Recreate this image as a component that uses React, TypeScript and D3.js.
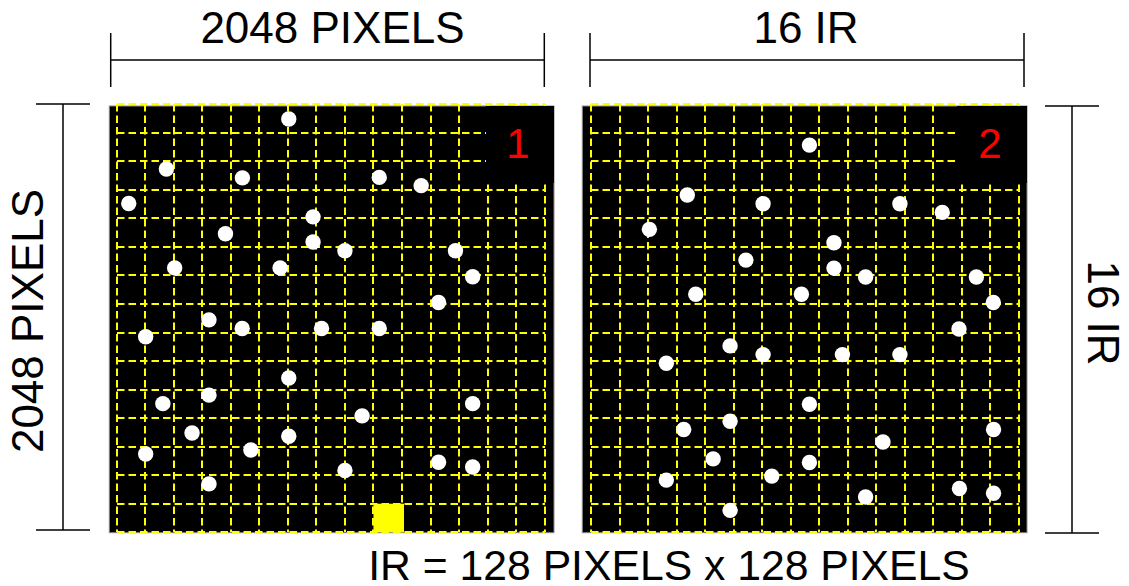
import * as d3 from 'd3';
import React from 'react';

const WIDTH = 1129;
const HEIGHT = 586;

// image is 2048 x 2048 pixels, split into 16 x 16 IRs of 128 pixels
const IMAGE_SIZE = 2048;
const IR_SIZE = 128;
const IR_COUNT = 16;

// point positions in image pixels, [x, y]
const panel1Points: [number, number][] = [
  [772, 66], [223, 290], [564, 330], [1178, 328], [1366, 365], [54, 445],
  [881, 505], [488, 581], [881, 618], [1024, 657], [1520, 657], [260, 734],
  [733, 734], [1597, 774], [1444, 889], [414, 967], [563, 1006], [919, 1006],
  [1178, 1006], [130, 1043], [772, 1228], [414, 1305], [207, 1343], [1101, 1398],
  [1597, 1343], [338, 1475], [772, 1489], [602, 1551], [130, 1569], [1444, 1606],
  [1597, 1627], [1024, 1643], [414, 1703],
];

const panel2Points: [number, number][] = [
  [980, 183], [432, 407], [772, 446], [1386, 446], [1576, 485], [262, 561],
  [1090, 621], [695, 699], [1090, 735], [1232, 775], [1729, 775], [470, 852],
  [944, 852], [1805, 889], [1651, 1008], [624, 1084], [772, 1123], [1128, 1123],
  [1386, 1123], [338, 1162], [980, 1346], [624, 1422], [416, 1459], [1806, 1459],
  [1310, 1515], [548, 1591], [980, 1607], [338, 1686], [811, 1668], [1232, 1762],
  [1653, 1724], [1806, 1745], [624, 1822],
];

// highlighted IR (column, row) in panel 1
const highlightIR = { col: 9, row: 14 };

const panelLabels = ['1', '2'];
const topLabels = ['2048 PIXELS', '16 IR'];
const leftLabel = '2048 PIXELS';
const rightLabel = '16 IR';
const bottomLabel = 'IR = 128 PIXELS x 128 PIXELS';

const FONT = '"Liberation Sans", Arial, sans-serif';
const CELL = 28.53;
const GRID_Y0 = 104.3;

const PANELS = [
  { gridX0: 116.7, left: 109.3, right: 554, boxLeft: 486, labelX: 518, points: panel1Points, highlight: true },
  { gridX0: 591, left: 582.3, right: 1027, boxLeft: 957, labelX: 990, points: panel2Points, highlight: false },
];

const PANEL_TOP = 106;
const PANEL_BOTTOM = 532.7;
const BOX_BOTTOM = 183;

type PanelProps = {
  gridX0: number;
  left: number;
  right: number;
  boxLeft: number;
  labelX: number;
  points: [number, number][];
  highlight: boolean;
  label: string;
};

function Panel({ gridX0, left, right, boxLeft, labelX, points, highlight, label }: PanelProps) {
  const xScale = d3.scaleLinear().domain([0, IMAGE_SIZE]).range([gridX0, gridX0 + IR_COUNT * CELL]);
  const yScale = d3.scaleLinear().domain([0, IMAGE_SIZE]).range([GRID_Y0, GRID_Y0 + IR_COUNT * CELL]);

  const gridTicks = d3.range(0, IMAGE_SIZE, IR_SIZE);
  const last = gridTicks[gridTicks.length - 1];
  // snap grid lines onto whole pixels so the 2px dashes stay crisp
  const snap = (v: number) => Math.round(v);

  return (
    <g>
      <rect
        x={left}
        y={PANEL_TOP}
        width={right - left}
        height={PANEL_BOTTOM - PANEL_TOP}
        fill="black"
        stroke="#8a8a8a"
        strokeWidth={1}
      />
      {gridTicks.map(t => (
        <line
          key={'v' + t}
          x1={snap(xScale(t))}
          x2={snap(xScale(t))}
          y1={snap(yScale(0))}
          y2={snap(yScale(last))}
          stroke="#ffff00"
          strokeWidth={2}
          strokeDasharray="7.5,4"
        />
      ))}
      {gridTicks.map(t => (
        <line
          key={'h' + t}
          x1={snap(xScale(0))}
          x2={snap(xScale(last))}
          y1={snap(yScale(t))}
          y2={snap(yScale(t))}
          stroke="#ffff00"
          strokeWidth={2}
          strokeDasharray="7.5,4"
        />
      ))}
      {highlight && (
        <rect
          x={xScale(highlightIR.col * IR_SIZE)}
          y={yScale(highlightIR.row * IR_SIZE)}
          width={xScale(IR_SIZE * 1.07) - xScale(0)}
          height={yScale(IR_SIZE) - yScale(0)}
          fill="#ffff00"
        />
      )}
      {points.map((p, i) => (
        <circle key={i} cx={xScale(p[0])} cy={yScale(p[1])} r={7.7} fill="white" />
      ))}
      <rect x={boxLeft} y={PANEL_TOP} width={right - boxLeft} height={BOX_BOTTOM - PANEL_TOP} fill="black" />
      <text x={labelX} y={158} fontSize={42} fontFamily={FONT} fill="#ff0000" textAnchor="middle">
        {label}
      </text>
    </g>
  );
}

function HDim({ x1, x2, y }: { x1: number; x2: number; y: number }) {
  return (
    <g stroke="black" strokeWidth={1.5}>
      <line x1={x1} x2={x2} y1={y} y2={y} />
      <line x1={x1} x2={x1} y1={y - 27} y2={y + 27} />
      <line x1={x2} x2={x2} y1={y - 27} y2={y + 27} />
    </g>
  );
}

function VDim({ x, y1, y2 }: { x: number; y1: number; y2: number }) {
  return (
    <g stroke="black" strokeWidth={1.5}>
      <line x1={x} x2={x} y1={y1} y2={y2} />
      <line x1={x - 27} x2={x + 27} y1={y1} y2={y1} />
      <line x1={x - 27} x2={x + 27} y1={y2} y2={y2} />
    </g>
  );
}

export default function App() {
  return (
    <svg
      width={WIDTH}
      height={HEIGHT}
      style={{ position: 'absolute', left: 0, top: 0, background: 'white' }}
    >
      {PANELS.map((p, i) => (
        <Panel key={i} {...p} label={panelLabels[i]} />
      ))}

      <HDim x1={110.7} x2={544.3} y={60} />
      <HDim x1={590} x2={1024} y={60} />
      <VDim x={63} y1={104} y2={530} />
      <VDim x={1072} y1={106} y2={533} />

      <text x={332.5} y={43} fontSize={44} fontFamily={FONT} textAnchor="middle">
        {topLabels[0]}
      </text>
      <text x={806} y={43} fontSize={44} fontFamily={FONT} textAnchor="middle">
        {topLabels[1]}
      </text>
      <text
        transform="translate(43,321) rotate(-90)"
        fontSize={44}
        fontFamily={FONT}
        textAnchor="middle"
      >
        {leftLabel}
      </text>
      <text
        transform="translate(1088,313) rotate(90)"
        fontSize={44}
        fontFamily={FONT}
        textAnchor="middle"
      >
        {rightLabel}
      </text>
      <text x={669} y={580} fontSize={42.7} fontFamily={FONT} textAnchor="middle">
        {bottomLabel}
      </text>
    </svg>
  );
}
